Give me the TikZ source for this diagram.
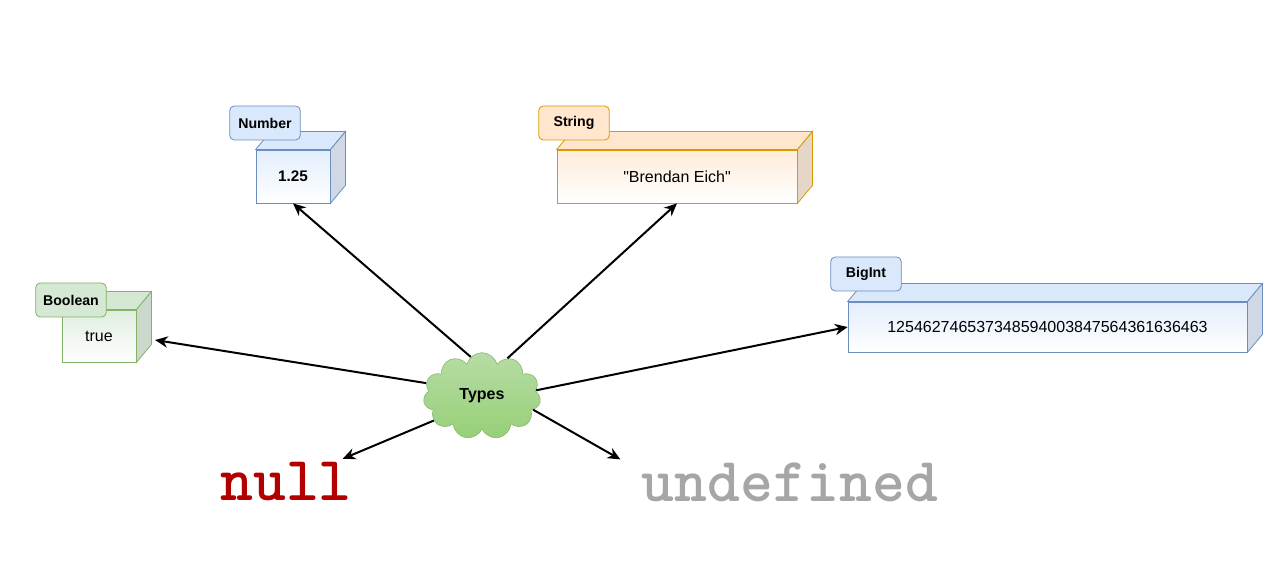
\documentclass[tikz,border=0pt]{standalone}
\usepackage{fontspec}
\setmainfont{Liberation Sans}
\newfontfamily\plainsans{Liberation Sans}
\usetikzlibrary{positioning,calc}
\usetikzlibrary{arrows.meta,shapes.symbols}
\definecolor{NumFill}{HTML}{DAE8FC}
\definecolor{NumLine}{HTML}{6C8EBF}
\definecolor{StrFill}{HTML}{FFE6CC}
\definecolor{StrLine}{HTML}{D79B00}
\definecolor{BoolFill}{HTML}{D5E8D4}
\definecolor{BoolLine}{HTML}{82B366}
\definecolor{CloudLow}{HTML}{97D077}
\definecolor{NullRed}{HTML}{B20000}
\definecolor{UndefGray}{HTML}{A6A6A6}
\tikzset{
  face/.style={draw=#1Line,line width=0.6pt,top color=#1Fill!75,bottom color=white,inner sep=0pt,
    font=\fontsize{12}{14}\selectfont},
  tab/.style={draw=#1Line,fill=#1Fill,rounded corners=3.5pt,line width=0.6pt,
    minimum width=53pt,minimum height=25.5pt,font=\fontsize{10.6}{12}\selectfont\bfseries},
  link/.style={draw=black,line width=1.5pt,-{Stealth[length=9.5pt,width=8.5pt]}},
  word/.style={inner sep=0pt,anchor=base,font=\ttfamily\bfseries\fontsize{47}{50}\selectfont},
}
% top and side faces of a box behind its front node
\newcommand{\boxdepth}[2]{%
  \filldraw[draw=#2Line,line width=0.6pt,fill=#2Fill] (#1.north west) -- ++(11.25pt,13.5pt)
    -- ($(#1.north east)+(11.25pt,13.5pt)$) -- (#1.north east) -- cycle;
  \filldraw[draw=#2Line,line width=0.6pt,fill=#2Fill!75!gray!80] (#1.north east) -- ++(11.25pt,13.5pt)
    -- ($(#1.south east)+(11.25pt,13.5pt)$) -- (#1.south east) -- cycle;
}

\begin{document}
\begin{tikzpicture}[x=0.75pt,y=-0.75pt]
\useasboundingbox (0,0) rectangle (1280,584);
% front faces
\node[face=Num,minimum width=55.5pt,minimum height=39.75pt,font=\fontsize{11.5}{14}\selectfont\bfseries] (num) at (293,176.5) {1.25};
\node[face=Str,minimum width=180pt,minimum height=39.75pt,font=\plainsans\fontsize{12}{14}\selectfont] (str) at (677,176.5) {"Brendan Eich"};
\node[face=Bool,minimum width=55.5pt,minimum height=39pt] (bool) at (99,336) {true};
\node[face=Num,minimum width=299.25pt,minimum height=37.5pt] (big) at (1047.5,327) {125462746537348594003847564361636463};
\boxdepth{num}{Num}
\boxdepth{str}{Str}
\boxdepth{bool}{Bool}
\boxdepth{big}{Num}
% tabs
\node[tab=Num] (numtab) at (265,123) {Number};
\node[tab=Str] (strtab) at (574,123) {String};
\node[tab=Bool] (booltab) at (71,300) {Boolean};
\node[tab=Num] (bigtab) at (866,274) {BigInt};
% centre
\node[cloud,cloud puffs=11,cloud ignores aspect,minimum width=88pt,minimum height=65pt,
  draw=BoolLine,top color=BoolFill!50!CloudLow,bottom color=CloudLow,
  font=\fontsize{12}{14}\selectfont\bfseries] (types) at (482,396) {Types};
\node[word,text=NullRed] (nul) at (286,500) {null};
\node[word,text=UndefGray] (undef) at (790,501) {undefined};
% arrows
\draw[link] (types.106) -- (num.south);
\draw[link] (types.56) -- (str.south);
\draw[link] (types.167) -- ([xshift=14pt,yshift=-3pt]bool.east);
\draw[link] (types.6) -- (big.west);
\draw[link] (types.207) -- ([xshift=-7pt,yshift=2pt]nul.north east);
\draw[link] (types.345) -- ([xshift=-16pt,yshift=2pt]undef.north west);
\end{tikzpicture}
\end{document}
